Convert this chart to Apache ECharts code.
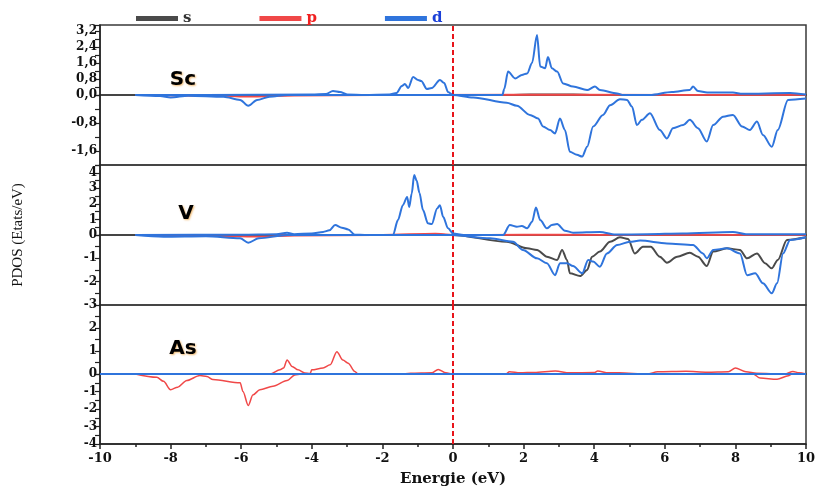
<!DOCTYPE html>
<html>
<head>
<meta charset="utf-8">
<script src="https://cdn.jsdelivr.net/npm/echarts@6/dist/echarts.min.js"></script>
<style>
  html, body { margin: 0; padding: 0; background: #fff; }
  #main { width: 819px; height: 491px; }
</style>
</head>
<body>
<div id="main"></div>
<script>
// energy (eV), PDOS (states/eV); up = spin up, dn = spin down
const scUpD = [[-9,0],[-7,0],[-4,0.02],[-3.6,0.05],[-3.4,0.2],[-3.2,0.15],[-3.0,0.03],[-2.5,0],[-1.8,0.02],[-1.6,0.1],[-1.45,0.45],[-1.36,0.55],[-1.27,0.35],[-1.13,0.9],[-0.99,0.75],[-0.9,0.7],[-0.74,0.3],[-0.6,0.35],[-0.37,0.75],[-0.25,0.6],[-0.14,0.15],[0,0],[1.4,0],[1.45,0.3],[1.56,1.17],[1.76,0.83],[1.95,1.0],[2.1,1.08],[2.24,1.6],[2.38,3.0],[2.47,1.42],[2.61,1.34],[2.69,1.9],[2.8,1.34],[2.95,1.17],[3.12,0.58],[3.4,0.42],[3.8,0.25],[4.02,0.42],[4.16,0.25],[4.65,0.08],[4.8,0],[5.58,0],[6.2,0.15],[6.71,0.25],[6.8,0.42],[6.94,0.2],[7.2,0.12],[7.93,0.12],[8.2,0.06],[9.55,0.1],[10,0.02]];
const scDnD = [[-9,0],[-8.3,-0.03],[-8.0,-0.07],[-7.5,-0.02],[-6.5,-0.05],[-6.03,-0.14],[-5.8,-0.31],[-5.55,-0.14],[-5.2,-0.05],[-4.7,0],[0,0],[0.57,-0.07],[1.52,-0.22],[1.81,-0.31],[2.18,-0.57],[2.41,-0.67],[2.55,-0.9],[2.75,-1.0],[2.89,-1.1],[3.03,-0.67],[3.17,-1.0],[3.31,-1.62],[3.51,-1.71],[3.66,-1.76],[3.8,-1.48],[3.97,-0.9],[4.25,-0.57],[4.45,-0.29],[4.73,-0.12],[4.93,-0.14],[5.07,-0.33],[5.21,-0.86],[5.35,-0.71],[5.58,-0.52],[5.86,-1.0],[6.06,-1.24],[6.23,-0.95],[6.52,-0.86],[6.71,-0.71],[6.94,-0.95],[7.19,-1.33],[7.37,-0.86],[7.65,-0.62],[7.93,-0.57],[8.19,-0.9],[8.41,-1.0],[8.61,-0.76],[8.78,-1.14],[9.03,-1.48],[9.2,-1.0],[9.49,-0.14],[10,-0.1]];
const scUpS = [[-9,0],[1.6,0],[2.2,0.02],[3.4,0.02],[4,0],[10,0]];
const scDnS = [[-9,0],[10,0]];
const scUpP = [[-9,0],[-6.5,0.01],[-4,0.01],[2,0.02],[3.5,0.02],[10,0.01]];
const scDnP = [[-9,0],[-6.5,-0.03],[-5.8,-0.05],[-4.5,-0.02],[0,0],[10,0]];

const vUpD = [[-9,0],[-6,0.02],[-5,0.05],[-4.7,0.15],[-4.5,0.05],[-4,0.1],[-3.68,0.2],[-3.5,0.3],[-3.34,0.64],[-3.15,0.47],[-2.97,0.36],[-2.78,0.02],[-2.5,0],[-1.7,0],[-1.56,0.96],[-1.42,1.92],[-1.3,2.45],[-1.24,1.8],[-1.17,2.67],[-1.1,3.85],[-1.03,3.5],[-0.95,2.7],[-0.85,1.6],[-0.71,0.75],[-0.6,0.7],[-0.45,1.7],[-0.37,1.92],[-0.28,1.17],[-0.14,0.43],[0,0.1],[0.3,0],[1.42,0],[1.61,0.64],[1.81,0.53],[1.95,0.58],[2.1,0.43],[2.24,0.85],[2.35,1.77],[2.47,0.96],[2.66,0.43],[2.8,0.64],[2.95,0.7],[3.17,0.28],[3.4,0.15],[4.16,0.2],[4.6,0.03],[5.5,0.05],[6.5,0.1],[7.93,0.2],[8.3,0.05],[10,0.05]];
const vDnD = [[-9,0],[-8.2,-0.07],[-7,-0.05],[-6.03,-0.14],[-5.8,-0.33],[-5.5,-0.14],[-4.7,0],[0,0],[1.05,-0.14],[1.7,-0.29],[1.98,-0.64],[2.38,-1.0],[2.66,-1.21],[2.89,-1.72],[3.03,-1.21],[3.23,-1.21],[3.4,-1.33],[3.66,-1.64],[3.83,-1.07],[3.97,-1.14],[4.16,-1.36],[4.36,-0.79],[4.65,-0.43],[5.01,-0.29],[5.3,-0.24],[6.06,-0.36],[6.8,-0.43],[7.08,-0.79],[7.19,-1.0],[7.37,-0.64],[7.76,-0.57],[8.13,-0.79],[8.33,-1.72],[8.56,-1.64],[8.78,-2.07],[9.03,-2.5],[9.18,-2.07],[9.35,-0.79],[9.55,-0.21],[10,-0.1]];
const vUpS = [[-9,0],[10,0]];
const vDnS = [[-9,0],[0,0],[1.52,-0.29],[2.1,-0.57],[2.38,-0.64],[2.66,-0.93],[2.95,-1.07],[3.09,-0.64],[3.23,-1.07],[3.31,-1.64],[3.6,-1.76],[3.8,-1.5],[3.94,-0.93],[4.16,-0.71],[4.45,-0.29],[4.73,-0.1],[4.96,-0.17],[5.15,-0.79],[5.38,-0.5],[5.6,-0.5],[5.86,-0.93],[6.06,-1.19],[6.35,-0.93],[6.71,-0.76],[6.94,-0.93],[7.19,-1.33],[7.37,-0.71],[7.76,-0.57],[8.13,-0.64],[8.33,-1.0],[8.61,-0.79],[8.84,-1.21],[9.03,-1.43],[9.2,-1.07],[9.46,-0.21],[10,-0.1]];
const vUpP = [[-9,0],[-2,0.02],[-0.5,0.1],[-0.2,0.05],[0,0],[2,0.03],[4,0.02],[10,0]];
const vDnP = [[-9,0],[-6.5,-0.05],[-5.5,-0.08],[-4.5,-0.03],[0,0],[10,0]];

const asUpP = [[-9,0],[-5.18,0],[-4.9,0.18],[-4.8,0.26],[-4.7,0.61],[-4.56,0.33],[-4.39,0.18],[-4.2,0.04],[-4.05,0.02],[-4.0,0.18],[-3.68,0.26],[-3.48,0.4],[-3.29,0.97],[-3.12,0.61],[-2.97,0.47],[-2.78,0.11],[-2.69,0],[-1.5,0],[-1.2,0.03],[-0.6,0.05],[-0.42,0.2],[-0.2,0.05],[0,0],[1.5,0],[1.6,0.1],[1.9,0.05],[2.3,0.07],[2.9,0.13],[3.3,0.05],[4.0,0.06],[4.1,0.13],[4.4,0.05],[4.7,0.05],[5.5,0],[5.8,0.1],[6.6,0.12],[7.2,0.08],[7.8,0.1],[8.0,0.26],[8.3,0.1],[8.6,0.03],[9.4,0],[9.63,0.11],[9.8,0.05],[10,0]];
const asDnP = [[-9,0],[-8.39,-0.19],[-8.2,-0.42],[-8.0,-0.9],[-7.8,-0.75],[-7.54,-0.37],[-7.17,-0.09],[-6.97,-0.14],[-6.8,-0.32],[-6.03,-0.5],[-5.95,-1.0],[-5.8,-1.8],[-5.67,-1.2],[-5.47,-0.9],[-5.1,-0.7],[-4.7,-0.37],[-4.48,-0.05],[-4.3,0],[0,0],[8.5,0],[8.7,-0.23],[9.18,-0.3],[9.5,-0.1],[9.6,0],[10,0]];
const asUpS = [[-9,0],[10,0]];
const asDnS = [[-9,0],[10,0]];
const asUpD = [[-10,0],[10,0]];
const asDnD = [[-10,0],[10,0]];

const xTicks = { min: -10, max: 10, interval: 2 };
const colS = '#4a4a4a', colP = '#f04848', colD = '#2f74dc';
const serif = 'DejaVu Serif';

// panels: top / bottom pixel and y range + label step
const panels = [
  { top: 25,  bottom: 396, min: 0,  max: 3.5, step: 0.4, major: 0.8, comma: true, hideZero: false },
  { top: 95,  bottom: 326, min: -2, max: 0,   step: 0.4, major: 0.8, comma: true, hideZero: true },
  { top: 165, bottom: 256, min: 0,  max: 4.5, step: 0.5, major: 1,   comma: false, hideZero: false },
  { top: 235, bottom: 186, min: -3, max: 0,   step: 0.5, major: 1,   comma: false, hideZero: true },
  { top: 305, bottom: 117, min: 0,  max: 3,   step: 0.5, major: 1,   comma: false, hideZero: false, hideMax: true },
  { top: 374, bottom: 47,  min: -4, max: 0,   step: 0.5, major: 1,   comma: false, hideZero: true }
];

const sets = [
  [scUpS, scUpP, scUpD], [scDnS, scDnP, scDnD],
  [vUpS, vUpP, vUpD], [vDnS, vDnP, vDnD],
  [asUpS, asUpP, asUpD], [asDnS, asDnP, asDnD]
];

const grid = [], xAxis = [], yAxis = [], series = [];
panels.forEach((p, i) => {
  grid.push({ left: 100, right: 13, top: p.top, bottom: p.bottom, show: true, borderColor: '#3a3a3a', borderWidth: 1.5 });
  const last = i === panels.length - 1;
  xAxis.push({
    gridIndex: i, type: 'value', min: xTicks.min, max: xTicks.max, interval: xTicks.interval,
    position: 'bottom',
    axisLine: { show: last, onZero: false, lineStyle: { color: '#222', width: 1.5 } },
    axisTick: { show: last, length: 5, lineStyle: { color: '#222', width: 1.5 } },
    minorTick: { show: last, splitNumber: 2, length: 3, lineStyle: { color: '#222', width: 1.5 } },
    axisLabel: { show: last, margin: 8, color: '#111', fontFamily: serif, fontWeight: 'bold', fontSize: 13 },
    splitLine: { show: false },
    name: last ? 'Energie (eV)' : '', nameLocation: 'middle', nameGap: 28,
    nameTextStyle: { color: '#111', fontFamily: serif, fontWeight: 'bold', fontSize: 15 }
  });
  yAxis.push({
    gridIndex: i, type: 'value', min: p.min, max: p.max, interval: p.step,
    axisLine: { show: true, onZero: false, lineStyle: { color: '#222', width: 1.5 } },
    axisTick: { show: true, length: 5, lineStyle: { color: '#222', width: 1.2 } },
    splitLine: { show: false },
    axisLabel: {
      margin: 3, color: '#111', fontFamily: serif, fontWeight: 'bold', fontSize: 12,
      showMaxLabel: !p.hideMax,
      formatter: function (v) {
        const k = Math.round(v * 10), m = Math.round(p.major * 10);
        if (k % m !== 0) return '';
        if (v === 0 && p.hideZero) return '';
        if (p.hideMax && v === p.max) return '';
        if (v > p.max || v < p.min) return '';
        return p.comma ? v.toFixed(1).replace('.', ',') : String(Math.round(v));
      }
    }
  });
  const names = ['s', 'p', 'd'];
  const cols = [colS, colP, colD];
  const widths = [2, 1.5, 2];
  sets[i].forEach((data, j) => {
    const s = {
      name: names[j], type: 'line', xAxisIndex: i, yAxisIndex: i,
      data: data, showSymbol: false, smooth: 0.3, smoothMonotone: 'x',
      lineStyle: { color: cols[j], width: widths[j] }, itemStyle: { color: cols[j] },
      z: 3 + j
    };
    if (j === 2) {
      s.markLine = {
        silent: true, symbol: ['none', 'none'], label: { show: false },
        lineStyle: { color: '#e8141a', type: [5, 3], width: 2 },
        data: [{ xAxis: 0 }]
      };
    }
    series.push(s);
  });
});

const labelStyle = (txt, x, y) => ({
  type: 'text', x: x, y: y, z: 100,
  style: {
    text: txt, fill: '#000', font: 'bold 20px "DejaVu Sans"', align: 'center', verticalAlign: 'middle',
    textShadowColor: 'rgba(230,140,20,0.6)', textShadowBlur: 2, textShadowOffsetX: 1, textShadowOffsetY: 1
  }
});

const option = {
  animation: false,
  backgroundColor: '#fff',
  legend: {
    left: 131, top: 6, icon: 'rect', itemWidth: 42, itemHeight: 5, itemGap: 68,
    textStyle: { fontFamily: serif, fontWeight: 'bold', fontSize: 15 },
    data: [
      { name: 's', textStyle: { color: '#333' } },
      { name: 'p', textStyle: { color: '#f02020' } },
      { name: 'd', textStyle: { color: '#1a3fd8' } }
    ]
  },
  grid: grid,
  xAxis: xAxis,
  yAxis: yAxis,
  series: series,
  graphic: [
    labelStyle('Sc', 183, 80),
    labelStyle('V', 186, 214),
    labelStyle('As', 183, 349),
    {
      type: 'text', x: 18, y: 235, rotation: Math.PI / 2,
      style: { text: 'PDOS (Etats/eV)', fill: '#111', font: '15px "Liberation Serif"', align: 'center', verticalAlign: 'middle' }
    }
  ]
};

const myChart = echarts.init(document.getElementById('main'));
myChart.setOption(option);
</script>
</body>
</html>
